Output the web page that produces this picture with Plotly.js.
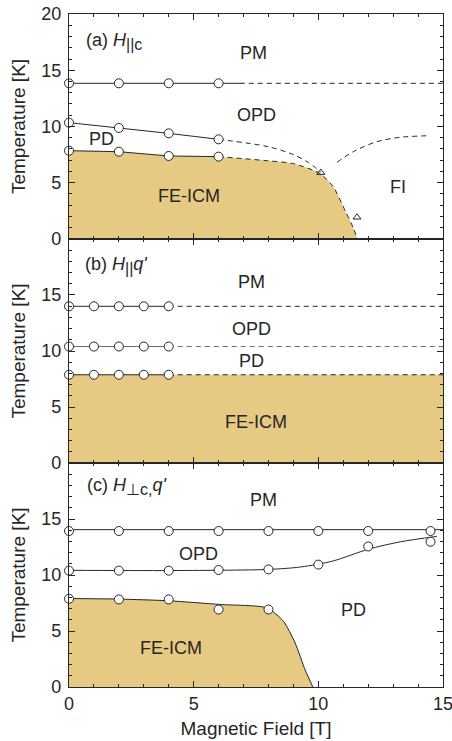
<!DOCTYPE html>
<html>
<head>
<meta charset="utf-8">
<script src="https://cdn.plot.ly/plotly-3.0.1.min.js"></script>
<style>html,body{margin:0;padding:0;background:#fff;}#chart{width:452px;height:741px;}</style>
</head>
<body>
<div id="chart"></div>
<script>
// ---------- Panel (a): H || c ----------
const aPM_x = [0, 2, 4, 6];
const aPM_T = [13.84, 13.84, 13.84, 13.84];
const aPM_solid_x = [0, 6.85];
const aPM_solid_T = [13.84, 13.84];
const aPM_dash_x = [6.85, 15];
const aPM_dash_T = [13.84, 13.84];

const aOPD_x = [0, 2, 4, 6];
const aOPD_T = [10.34, 9.87, 9.39, 8.86];
const aOPD_dash_x = [6, 8, 9, 9.6, 10.1];
const aOPD_dash_T = [8.86, 8.2, 7.5, 6.8, 5.95];

const aPD_x = [0, 2, 4, 6];
const aPD_T = [7.85, 7.76, 7.38, 7.32];
const aPD_dash_x = [6, 8, 9, 10.05, 10.6, 11.1, 11.4, 11.57];
const aPD_dash_T = [7.32, 6.95, 6.7, 5.85, 4.65, 2.4, 1.0, 0];
const aFill_x = [0, 2, 4, 6, 8, 9, 10.05, 10.6, 11.1, 11.4, 11.57];
const aFill_T = [7.85, 7.76, 7.38, 7.32, 6.95, 6.7, 5.85, 4.65, 2.4, 1.0, 0];

const aFI_x = [10.75, 11.4, 12.34, 13.28, 14.41];
const aFI_T = [6.82, 7.76, 8.65, 9.04, 9.18];

const aTri_x = [10.1, 11.55];
const aTri_T = [5.9, 1.93];

// ---------- Panel (b): H || q' ----------
const bCirc_x = [0, 1, 2, 3, 4];
const bPM_T = 13.99;
const bOPD_T = 10.4;
const bPD_T = 7.88;
const bEnd_x = 15;

// ---------- Panel (c): H ⊥ c,q' ----------
const cPM_x = [0, 2, 4, 6, 8, 10, 12, 14.5];
const cPM_T = [13.93, 13.93, 13.93, 13.93, 13.93, 13.93, 13.93, 13.93];
const cPM_line_x = [0, 15];
const cPM_line_T = [14.05, 14.05];

const cOPD_x = [0, 2, 4, 6, 8, 10, 12, 14.5];
const cOPD_T = [10.39, 10.39, 10.39, 10.45, 10.5, 10.93, 12.55, 12.97];
const cOPD_curve_x = [0, 4, 8, 9.3, 10.6, 12, 13.3, 14.75];
const cOPD_curve_T = [10.42, 10.4, 10.5, 10.72, 11.26, 12.3, 12.97, 13.45];

const cPD_x = [0, 2, 4, 6, 8];
const cPD_T = [7.88, 7.82, 7.82, 6.92, 6.92];
const cPD_curve_x = [0, 2, 4, 6.06, 7.93, 8.6, 9.07, 9.47, 9.78];
const cPD_curve_T = [7.9, 7.85, 7.7, 7.37, 7.07, 5.87, 3.93, 1.53, 0];

const FILL = '#E6C982';
const INK = '#262626';
const FONT = 'Liberation Sans, Arial, Helvetica, sans-serif';

const circ = {symbol: 'circle', size: 9, color: '#ffffff', line: {color: INK, width: 1}};
const tri = {symbol: 'triangle-up-open', size: 7, color: INK, line: {width: 1}};

function line(x, y, xa, ya, opts) {
  return {x: x, y: y, xaxis: xa, yaxis: ya, mode: 'lines', type: 'scatter',
    hoverinfo: 'skip', showlegend: false, cliponaxis: false,
    line: Object.assign({color: INK, width: 1}, opts || {})};
}
function pts(x, y, xa, ya, m) {
  return {x: x, y: y, xaxis: xa, yaxis: ya, mode: 'markers', type: 'scatter',
    showlegend: false, cliponaxis: false, marker: m};
}

const traces = [];
// panel a (x,y) - top
traces.push({x: aFill_x, y: aFill_T, xaxis: 'x', yaxis: 'y', type: 'scatter', mode: 'lines',
  fill: 'tozeroy', fillcolor: FILL, line: {width: 0, shape: 'spline', smoothing: 0.6}, showlegend: false});
traces.push(line(aPM_solid_x, aPM_solid_T, 'x', 'y'));
traces.push(line(aPM_dash_x, aPM_dash_T, 'x', 'y', {dash: '5px,4px'}));
traces.push(line(aOPD_x, aOPD_T, 'x', 'y'));
traces.push(line(aOPD_dash_x, aOPD_dash_T, 'x', 'y', {dash: '5px,4px', shape: 'spline', smoothing: 0.8}));
traces.push(line(aPD_x, aPD_T, 'x', 'y'));
traces.push(line(aPD_dash_x, aPD_dash_T, 'x', 'y', {dash: '5px,4px', shape: 'spline', smoothing: 0.6}));
traces.push(line(aFI_x, aFI_T, 'x', 'y', {dash: '5px,4px', shape: 'spline', smoothing: 0.8}));
traces.push(pts(aPM_x, aPM_T, 'x', 'y', circ));
traces.push(pts(aOPD_x, aOPD_T, 'x', 'y', circ));
traces.push(pts(aPD_x, aPD_T, 'x', 'y', circ));
traces.push(pts(aTri_x, aTri_T, 'x', 'y', tri));

// panel b (x2,y2) - middle
const bLast = bCirc_x[bCirc_x.length - 1];
traces.push({x: [0, bEnd_x], y: [bPD_T, bPD_T], xaxis: 'x2', yaxis: 'y2', type: 'scatter', mode: 'lines',
  fill: 'tozeroy', fillcolor: FILL, line: {width: 0}, showlegend: false});
[[bPM_T, INK], [bOPD_T, '#6b6b6b'], [bPD_T, INK]].forEach(function (p) {
  traces.push(line([0, bLast], [p[0], p[0]], 'x2', 'y2', {color: p[1]}));
  traces.push(line([bLast, bEnd_x], [p[0], p[0]], 'x2', 'y2', {color: p[1], dash: '5px,4px'}));
  traces.push(pts(bCirc_x, bCirc_x.map(function () { return p[0]; }), 'x2', 'y2', circ));
});

// panel c (x3,y3) - bottom
traces.push({x: cPD_curve_x, y: cPD_curve_T, xaxis: 'x3', yaxis: 'y3', type: 'scatter', mode: 'lines',
  fill: 'tozeroy', fillcolor: FILL, line: {color: INK, width: 1, shape: 'spline', smoothing: 0.6}, showlegend: false});
traces.push(line(cPM_line_x, cPM_line_T, 'x3', 'y3'));
traces.push(line(cOPD_curve_x, cOPD_curve_T, 'x3', 'y3', {shape: 'spline', smoothing: 0.8}));
traces.push(pts(cPM_x, cPM_T, 'x3', 'y3', circ));
traces.push(pts(cOPD_x, cOPD_T, 'x3', 'y3', circ));
traces.push(pts(cPD_x, cPD_T, 'x3', 'y3', circ));

function xax(showLabels, anchor) {
  return {anchor: anchor, domain: [0, 1], range: [0, 15], tickvals: [0, 5, 10, 15],
    ticks: 'inside', ticklen: 6, tickwidth: 1, tickcolor: INK, showline: true, linecolor: INK, linewidth: 1.1,
    mirror: 'ticks', showgrid: false, zeroline: false, showticklabels: showLabels,
    ticklabeloverflow: 'allow',
    minor: {dtick: 1, ticks: 'inside', ticklen: 3, tickcolor: INK, showgrid: false},
    tickfont: {family: FONT, size: 18, color: INK}};
}
function yax(domain, vals, anchor) {
  return {anchor: anchor, domain: domain, range: [0, 20], tickvals: vals,
    ticks: 'inside', ticklen: 6, tickwidth: 1, tickcolor: INK, showline: true, linecolor: INK, linewidth: 1.1,
    mirror: 'ticks', showgrid: false, zeroline: false, ticklabelstandoff: 3,
    minor: {dtick: 1, ticks: 'inside', ticklen: 3, tickcolor: INK, showgrid: false},
    tickfont: {family: FONT, size: 18, color: INK},
    title: {text: 'Temperature [K]', font: {family: FONT, size: 19, color: INK}, standoff: 10}};
}

const xBottom = xax(true, 'y3');
xBottom.title = {text: 'Magnetic Field [T]', font: {family: FONT, size: 19, color: INK}, standoff: 9};

function ann(x, y, text, xref, yref, anchor) {
  return {x: x, y: y, xref: xref, yref: yref, text: text, showarrow: false,
    xanchor: anchor || 'center', yanchor: 'middle', font: {family: FONT, size: 18, color: INK}};
}
const SUB = '<span style="font-size:16px">';

const annotations = [
  ann(0.6, 17.6, '(a) <i>H</i><sub>' + SUB + '||c</span></sub>', 'x', 'y', 'left'),
  ann(7.4, 16.5, 'PM', 'x', 'y'),
  ann(7.5, 11.0, 'OPD', 'x', 'y'),
  ann(1.3, 8.9, 'PD', 'x', 'y'),
  ann(4.8, 3.8, 'FE-ICM', 'x', 'y'),
  ann(13.2, 4.65, 'FI', 'x', 'y'),

  ann(0.55, 17.6, "(b) <i>H</i><sub>" + SUB + "||</span></sub><i>q'</i>", 'x2', 'y2', 'left'),
  ann(7.3, 16.2, 'PM', 'x2', 'y2'),
  ann(7.3, 12.0, 'OPD', 'x2', 'y2'),
  ann(7.3, 9.1, 'PD', 'x2', 'y2'),
  ann(7.5, 3.7, 'FE-ICM', 'x2', 'y2'),

  ann(0.65, 17.9, "(c) <i>H</i><sub>" + SUB + "⊥c,</span></sub><i>q'</i>", 'x3', 'y3', 'left'),
  ann(7.8, 16.7, 'PM', 'x3', 'y3'),
  ann(5.2, 11.9, 'OPD', 'x3', 'y3'),
  ann(11.4, 6.9, 'PD', 'x3', 'y3'),
  ann(4.1, 3.5, 'FE-ICM', 'x3', 'y3')
];

const layout = {
  width: 452, height: 741,
  margin: {l: 69, r: 9, t: 14, b: 54},
  paper_bgcolor: '#ffffff', plot_bgcolor: '#ffffff',
  font: {family: FONT, color: INK},
  showlegend: false,
  xaxis: xax(false, 'y'),
  xaxis2: xax(false, 'y2'),
  xaxis3: xBottom,
  yaxis: yax([0.6657, 1], [0, 5, 10, 15, 20], 'x'),
  yaxis2: yax([0.3328, 0.6657], [0, 5, 10, 15], 'x2'),
  yaxis3: yax([0, 0.3328], [0, 5, 10, 15], 'x3'),
  annotations: annotations
};

Plotly.newPlot('chart', traces, layout, {displayModeBar: false, staticPlot: true});
</script>
</body>
</html>
